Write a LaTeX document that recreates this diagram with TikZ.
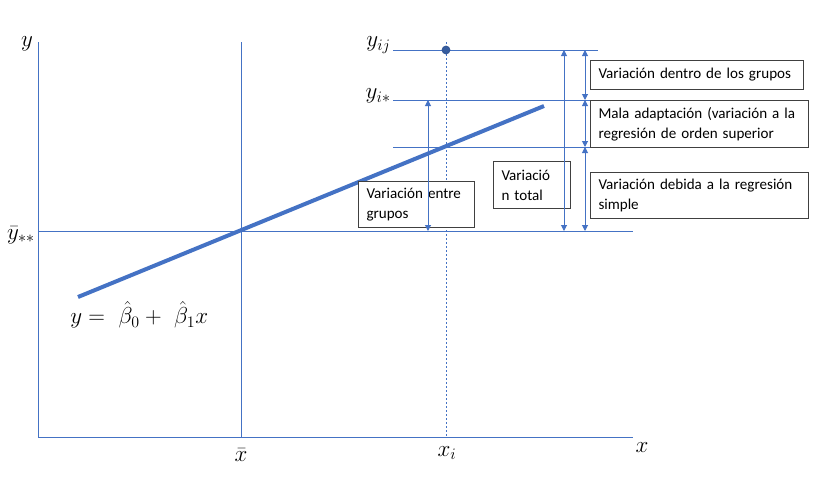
\documentclass[tikz,border=0pt]{standalone}
\usepackage{fontspec}
\usetikzlibrary{arrows.meta}
\newfontfamily\boxfont{Carlito}
\definecolor{lineblue}{RGB}{68,114,196}
\definecolor{dotblue}{RGB}{47,82,143}
\definecolor{boxgray}{RGB}{64,64,64}
\hyphenpenalty=10000
\exhyphenpenalty=10000
\tikzset{
  thinline/.style={draw=lineblue, line width=0.75pt},
  dotline/.style={draw=lineblue, line width=0.75pt, dash pattern=on 1.5pt off 1.5pt},
  regline/.style={draw=lineblue, line width=3pt},
  dblarrow/.style={draw=lineblue, line width=0.75pt,
    {Triangle[width=4.5pt,length=4.5pt]}-{Triangle[width=4.5pt,length=4.5pt]}},
  tbox/.style={draw=boxgray, line width=0.75pt, fill=white, anchor=north west,
    inner xsep=6pt, inner ysep=2pt, align=left,
    font=\boxfont\fontsize{11.3}{15}\selectfont},
  mlabel/.style={inner sep=0pt, font=\fontsize{18}{20}\selectfont},
}
\begin{document}
\begin{tikzpicture}[x=0.75pt,y=-0.75pt]
\useasboundingbox (0,0) rectangle (839,497);
% coordinates
\coordinate (o) at (38,437);
\coordinate (ytop) at (38,42);
\coordinate (xend) at (633,437);
\coordinate (xbtop) at (241,42);
\coordinate (xbbot) at (241,437);
\coordinate (ybl) at (38,231);
\coordinate (ybr) at (633,231);
\coordinate (xitop) at (446,42);
\coordinate (xibot) at (446,437);
\coordinate (yijl) at (393,50);
\coordinate (yijr) at (598,50);
\coordinate (yisl) at (393,100);
\coordinate (yisr) at (590,100);
\coordinate (yfl) at (393,147);
\coordinate (yfr) at (590,147);
\coordinate (r0) at (78,297);
\coordinate (r1) at (544,106);
% axes and guide lines
\draw[thinline] (ytop) -- (o) -- (xend);
\draw[thinline] (xbtop) -- (xbbot);
\draw[thinline] (ybl) -- (ybr);
\draw[dotline] (xitop) -- (xibot);
\draw[thinline] (yijl) -- (yijr);
\draw[thinline] (yisl) -- (yisr);
\draw[thinline] (yfl) -- (yfr);
% regression line
\draw[regline] (r0) -- (r1);
\node[circle, fill=dotblue!70!lineblue, draw=dotblue, line width=0.5pt, inner sep=0pt, minimum size=6pt] (pt) at (446,50) {};
% boxes
\node[tbox, text width=75pt, minimum height=34.5pt] (bentre) at (358,181)
  {Variación entre\\grupos};
\node[tbox, text width=45.75pt, minimum height=35.25pt] (btotal) at (493,161)
  {Variació\\n total};
\node[tbox, text width=147.75pt, minimum height=21.75pt] (bdentro) at (590,60)
  {Variación dentro de los grupos};
\node[tbox, text width=151.5pt, minimum height=35.25pt] (bmala) at (590,100)
  {Mala adaptación (variación a la\\regresión de orden superior};
\node[tbox, text width=151.5pt, minimum height=34.5pt] (bdebida) at (590,172)
  {Variación debida a la regresión\\simple};
% arrows
\coordinate (ae1) at (428,100);
\coordinate (ae2) at (428,231);
\draw[dblarrow] (ae1) -- (ae2);
\coordinate (at1) at (564,50);
\coordinate (at2) at (564,231);
\draw[dblarrow] (at1) -- (at2);
\coordinate (ar1) at (585,50);
\coordinate (ar2) at (585,100);
\coordinate (ar3) at (585,147);
\coordinate (ar4) at (585,231);
\draw[dblarrow] (ar1) -- (ar2);
\draw[dblarrow] (ar2) -- (ar3);
\draw[dblarrow] (ar3) -- (ar4);
% labels
\node[mlabel] (ly) at (27,44) {$y$};
\node[mlabel, anchor=east] (lyij) at (391,45) {$y_{ij}$};
\node[mlabel, anchor=east] (lyis) at (391,96) {$y_{i*}$};
\node[mlabel, anchor=east] (lybar) at (35,235) {$\bar{y}_{**}$};
\node[mlabel, anchor=west] (lform) at (70,315) {$y=\ \hat{\beta}_0+\ \hat{\beta}_1x$};
\node[mlabel] (lxbar) at (241,455) {$\bar{x}$};
\node[mlabel] (lxi) at (447,453) {$x_i$};
\node[mlabel] (lx) at (642,448) {$x$};
\end{tikzpicture}
\end{document}
